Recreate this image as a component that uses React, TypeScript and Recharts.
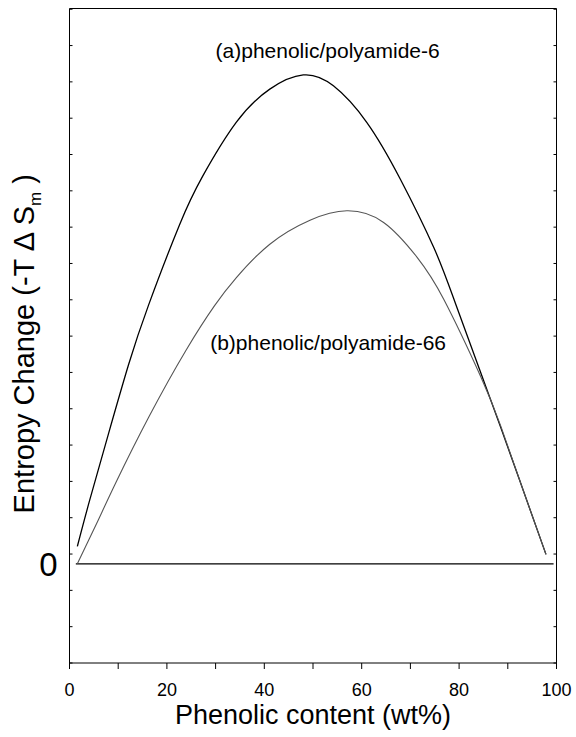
import React from 'react';
import { LineChart, Line, XAxis, YAxis, ReferenceDot } from 'recharts';

// Phenolic content (wt%) and entropy change
const phenolicA = [1.61, 4.16, 8.0, 12.12, 16.25, 22.58, 27.38, 34.27, 41.13, 48.0, 54.19, 61.07, 67.94, 74.8, 79.63, 88.56, 93.2, 97.84];
const entropyA = [0.48, 1.76, 3.58, 5.48, 7.13, 9.33, 10.68, 12.16, 13.07, 13.46, 13.16, 12.15, 10.59, 8.71, 7.03, 3.75, 2.01, 0.26];

const phenolicB = [1.61, 5.57, 9.53, 16.39, 23.96, 29.79, 34.27, 41.13, 49.38, 56.95, 64.5, 71.38, 76.87, 84.43, 88.56, 93.2, 97.84];
const entropyB = [0, 1.11, 2.24, 4.07, 5.89, 7.11, 7.88, 8.8, 9.46, 9.72, 9.4, 8.44, 7.28, 5.16, 3.79, 2.01, 0.26];

const zeroLineX = [1.3, 99.4];
const zeroLineY = [0, 0];

const xTicks = [0, 10, 20, 30, 40, 50, 60, 70, 80, 90, 100];
const xLabelTicks = [0, 20, 40, 60, 80, 100];
const yTicks = [-2.73, -1.73, -0.73, 0.27, 1.27, 2.27, 3.27, 4.27, 5.27, 6.27, 7.27, 8.27, 9.27, 10.27, 11.27, 12.27, 13.27, 14.27, 15.27];
const yDomain = [-2.73, 15.29];

const seriesNames = ['(a)phenolic/polyamide-6', '(b)phenolic/polyamide-66'];
const xTitle = 'Phenolic content (wt%)';

const FONT = '"Liberation Sans", Arial, Helvetica, sans-serif';

const dataA = phenolicA.map((x, i) => ({ x, y: entropyA[i] }));
const dataB = phenolicB.map((x, i) => ({ x, y: entropyB[i] }));
const dataZero = zeroLineX.map((x, i) => ({ x, y: zeroLineY[i] }));

const YTitle = (props: any) => {
  const vb = props.viewBox || { x: 69.5, y: 9.5, width: 1, height: 653.5 };
  const cx = vb.x - 35.5;
  const cy = vb.y + vb.height / 2 + 8;
  return (
    <text
      x={cx}
      y={cy}
      transform={`rotate(-90, ${cx}, ${cy})`}
      textAnchor="middle"
      fontSize={29}
      fontFamily={FONT}
      fill="#000"
    >
      Entropy Change (-T {'\u0394'} S
      <tspan dy={7} fontSize={17}>m</tspan>
      <tspan dy={-7}> )</tspan>
    </text>
  );
};

const XTitle = (props: any) => {
  const vb = props.viewBox || { x: 70.5, y: 663, width: 485, height: 74 };
  return (
    <text
      x={vb.x + vb.width / 2}
      y={vb.y + 61}
      textAnchor="middle"
      fontSize={27}
      fontFamily={FONT}
      fill="#000"
    >
      {xTitle}
    </text>
  );
};

export default function App() {
  return (
    <div style={{ position: 'absolute', left: 0, top: 0, background: '#fff' }}>
      <LineChart
        width={576}
        height={737}
        margin={{ top: 8.5, right: 19.5, left: 69.5, bottom: 0 }}
        style={{ fontFamily: FONT }}
      >
        <XAxis
          xAxisId={0}
          type="number"
          dataKey="x"
          domain={[0, 100]}
          ticks={xTicks}
          allowDataOverflow
          tickSize={6}
          tickMargin={14}
          height={74}
          stroke="#000"
          tickLine={{ stroke: '#000' }}
          axisLine={{ stroke: '#000' }}
          tick={{ fill: '#000', fontSize: 18, fontFamily: FONT }}
          tickFormatter={(v: number) => (xLabelTicks.includes(v) ? String(v) : '')}
          label={<XTitle />}
        />
        <XAxis
          xAxisId="top"
          orientation="top"
          type="number"
          domain={[0, 100]}
          ticks={xTicks}
          allowDataOverflow
          mirror
          height={1}
          tickSize={3}
          stroke="#000"
          tickFormatter={() => ''}
        />
        <YAxis
          yAxisId={0}
          type="number"
          domain={yDomain}
          ticks={yTicks}
          allowDataOverflow
          mirror
          width={1}
          tickSize={3}
          stroke="#000"
          tickFormatter={() => ''}
          label={<YTitle />}
        />
        <YAxis
          yAxisId="r"
          orientation="right"
          type="number"
          domain={yDomain}
          ticks={yTicks}
          allowDataOverflow
          mirror
          width={1}
          tickSize={3}
          stroke="#000"
          tickFormatter={() => ''}
        />
        <Line
          data={dataZero}
          dataKey="y"
          type="linear"
          stroke="#000"
          strokeWidth={1.2}
          dot={false}
          isAnimationActive={false}
        />
        <Line
          data={dataA}
          dataKey="y"
          type="natural"
          stroke="#000"
          strokeWidth={1.3}
          dot={false}
          isAnimationActive={false}
        />
        <Line
          data={dataB}
          dataKey="y"
          type="natural"
          stroke="#555"
          strokeWidth={1.1}
          dot={false}
          isAnimationActive={false}
        />
        <ReferenceDot
          x={0}
          y={0}
          r={0}
          ifOverflow="visible"
          label={{ value: '0', position: 'left', offset: 12, fontSize: 33, fill: '#000', fontFamily: FONT }}
        />
        <ReferenceDot
          x={53}
          y={14.12}
          r={0}
          ifOverflow="visible"
          label={{ value: seriesNames[0], position: 'center', fontSize: 21, fill: '#000', fontFamily: FONT }}
        />
        <ReferenceDot
          x={53.1}
          y={6.09}
          r={0}
          ifOverflow="visible"
          label={{ value: seriesNames[1], position: 'center', fontSize: 21, fill: '#000', fontFamily: FONT }}
        />
      </LineChart>
    </div>
  );
}
